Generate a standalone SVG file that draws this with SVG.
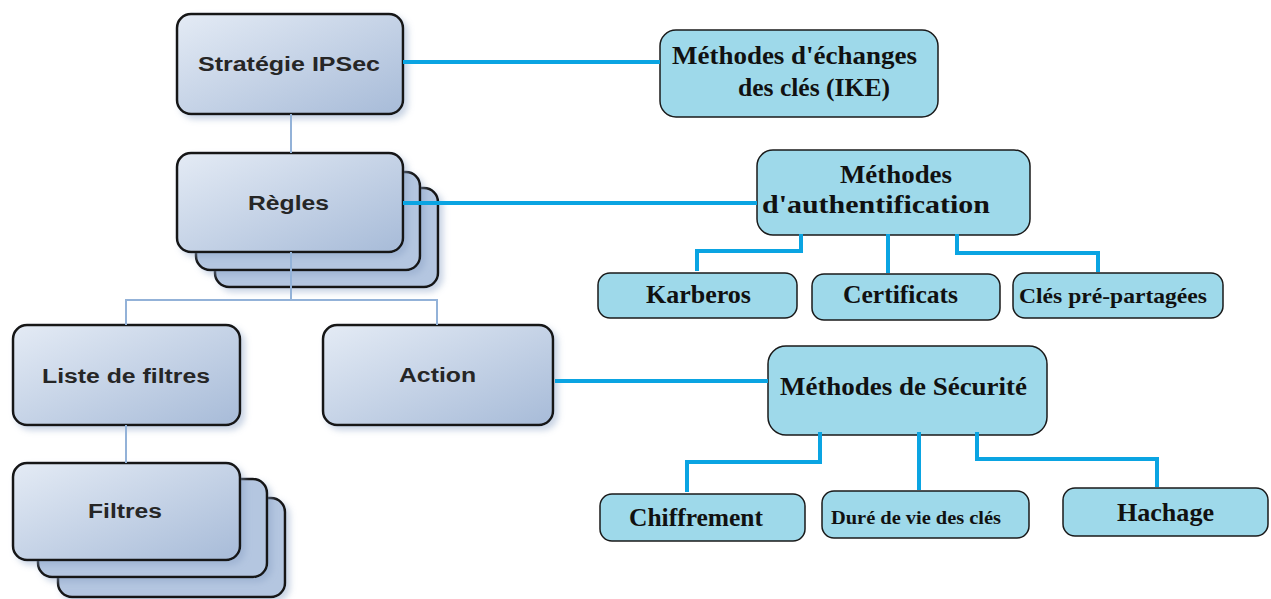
<svg xmlns="http://www.w3.org/2000/svg" width="1271" height="599" viewBox="0 0 1271 599">
  <defs>
    <linearGradient id="boxGrad" x1="0" y1="0" x2="1" y2="1">
      <stop offset="0" stop-color="#e4ebf5"/>
      <stop offset="1" stop-color="#a7bbd8"/>
    </linearGradient>
    <filter id="soft" x="-10%" y="-10%" width="130%" height="130%">
      <feDropShadow dx="4" dy="4" stdDeviation="3" flood-color="#8aa2c4" flood-opacity="0.45"/>
    </filter>
    <style>
      .card { fill: url(#boxGrad); stroke: #141414; stroke-width: 2.5; filter: url(#soft); }
      .back { fill: #b4c6e0; stroke: #141414; stroke-width: 2.5; filter: url(#soft); }
      .lbl { font-family: "Liberation Sans", Arial, sans-serif; font-weight: bold; font-size: 20px; fill: #262626; }
      .tbox { fill: #9ed9ea; stroke: #1a1a1a; stroke-width: 1.5; }
      .tlbl { font-family: "Liberation Serif", "Times New Roman", serif; font-weight: bold; font-size: 25px; fill: #111; }
      .thin { fill: none; stroke: #93b2d8; stroke-width: 2; }
      .link { fill: none; stroke: #0aa4e2; stroke-width: 4; }
    </style>
  </defs>

  <g id="strategie">
    <rect class="card" x="177" y="14" width="226" height="100" rx="14"/>
    <text class="lbl" x="198" y="71" textLength="182" lengthAdjust="spacingAndGlyphs">Stratégie IPSec</text>
  </g>

  <g id="regles">
    <rect class="back" x="215" y="188" width="223" height="99" rx="14"/>
    <rect class="back" x="196" y="172" width="224" height="98" rx="14"/>
    <rect class="card" x="177" y="153" width="226" height="99" rx="14"/>
    <text class="lbl" x="248" y="210" textLength="81" lengthAdjust="spacingAndGlyphs">Règles</text>
  </g>

  <g id="liste-filtres">
    <rect class="card" x="13" y="325" width="227" height="100" rx="14"/>
    <text class="lbl" x="42" y="383" textLength="168" lengthAdjust="spacingAndGlyphs">Liste de filtres</text>
  </g>

  <g id="action">
    <rect class="card" x="323" y="325" width="230" height="100" rx="14"/>
    <text class="lbl" x="399" y="382" textLength="77" lengthAdjust="spacingAndGlyphs">Action</text>
  </g>

  <g id="filtres">
    <rect class="back" x="58" y="498" width="227" height="99" rx="14"/>
    <rect class="back" x="38" y="479" width="229" height="98" rx="14"/>
    <rect class="card" x="13" y="463" width="227" height="97" rx="14"/>
    <text class="lbl" x="88" y="518" textLength="74" lengthAdjust="spacingAndGlyphs">Filtres</text>
  </g>

  <g id="ike">
    <rect class="tbox" x="660" y="30" width="278" height="87" rx="16"/>
    <text class="tlbl" x="672" y="64" textLength="245" lengthAdjust="spacingAndGlyphs">Méthodes d'échanges</text>
    <text class="tlbl" x="738" y="96" textLength="152" lengthAdjust="spacingAndGlyphs">des clés (IKE)</text>
  </g>

  <g id="authentification">
    <rect class="tbox" x="757" y="150" width="273" height="85" rx="16" stroke="none"/>
    <text class="tlbl" x="840" y="183" textLength="112" lengthAdjust="spacingAndGlyphs">Méthodes</text>
    <text class="tlbl" x="762" y="213" textLength="228" lengthAdjust="spacingAndGlyphs">d'authentification</text>
  </g>

  <g id="karberos">
    <rect class="tbox" x="598" y="273" width="199" height="45" rx="12"/>
    <text class="tlbl" x="646" y="303" textLength="105" lengthAdjust="spacingAndGlyphs">Karberos</text>
  </g>

  <g id="certificats">
    <rect class="tbox" x="812" y="274" width="188" height="46" rx="12"/>
    <text class="tlbl" x="843" y="303" textLength="115" lengthAdjust="spacingAndGlyphs">Certificats</text>
  </g>

  <g id="cles-pre-partagees">
    <rect class="tbox" x="1013" y="273" width="210" height="45" rx="12"/>
    <text class="tlbl" x="1019" y="303" textLength="188" lengthAdjust="spacingAndGlyphs" style="font-size:21px">Clés pré-partagées</text>
  </g>

  <g id="securite">
    <rect class="tbox" x="768" y="346" width="279" height="89" rx="18"/>
    <text class="tlbl" x="780" y="395" textLength="247" lengthAdjust="spacingAndGlyphs">Méthodes de Sécurité</text>
  </g>

  <g id="chiffrement">
    <rect class="tbox" x="600" y="494" width="205" height="47" rx="12"/>
    <text class="tlbl" x="629" y="526" textLength="134" lengthAdjust="spacingAndGlyphs">Chiffrement</text>
  </g>

  <g id="duree-vie">
    <rect class="tbox" x="822" y="491" width="207" height="47" rx="12"/>
    <text class="tlbl" x="831" y="524" textLength="170" lengthAdjust="spacingAndGlyphs" style="font-size:18px">Duré de vie des clés</text>
  </g>

  <g id="hachage">
    <rect class="tbox" x="1063" y="488" width="205" height="48" rx="12"/>
    <text class="tlbl" x="1117" y="521" textLength="97" lengthAdjust="spacingAndGlyphs">Hachage</text>
  </g>

  <!-- connectors sit above the stacked cards they cross -->
  <g id="connectors">
    <path class="thin" d="M291 114 V153"/>
    <path class="thin" d="M291 252 V300 M126 325 V300 H437 V325"/>
    <path class="thin" d="M126 425 V463"/>
    <path class="link" d="M403 62 H660"/>
    <path class="link" d="M403 203 H757"/>
    <path class="link" d="M555 381 H768"/>
    <path class="link" d="M801 234 V251 H697 V271"/>
    <path class="link" d="M888 234 V273"/>
    <path class="link" d="M957 234 V253 H1098 V272"/>
    <path class="link" d="M820 432 V462 H687 V492"/>
    <path class="link" d="M919 432 V490"/>
    <path class="link" d="M977 432 V459 H1157 V487"/>
  </g>
</svg>
